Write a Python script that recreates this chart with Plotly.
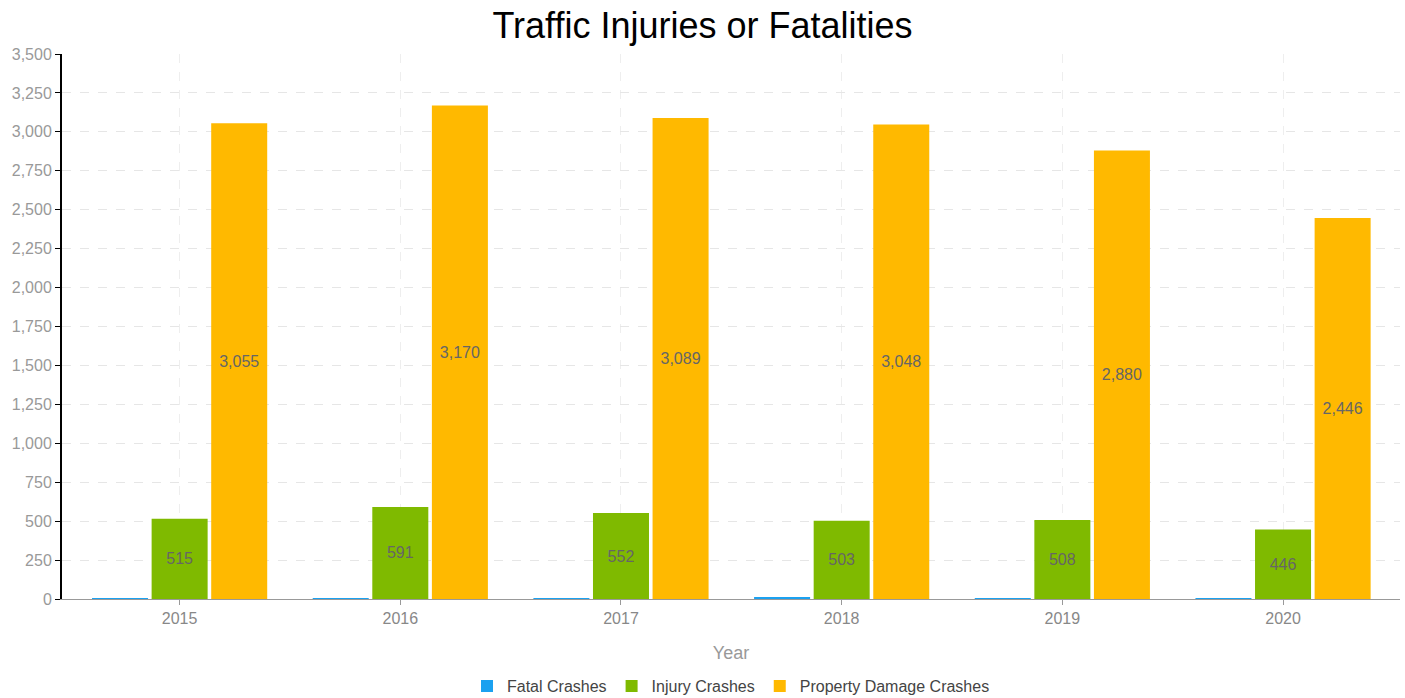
import plotly.graph_objects as go

years = ["2015", "2016", "2017", "2018", "2019", "2020"]
fatal = [4, 3, 3, 9, 2, 3]
injury = [515, 591, 552, 503, 508, 446]
property_damage = [3055, 3170, 3089, 3048, 2880, 2446]

font_family = "Liberation Sans, Arial, sans-serif"

fig = go.Figure()
fig.add_trace(go.Bar(name="Fatal Crashes", x=years, y=fatal, marker_color="#1ba1f0",
                     marker_line_width=0, hoverinfo="y"))
fig.add_trace(go.Bar(name="Injury Crashes", x=years, y=injury, marker_color="#7fba00",
                     marker_line_width=0, texttemplate="%{y:,}", textposition="inside",
                     insidetextanchor="middle", textangle=0,
                     textfont=dict(color="#666666", size=16, family=font_family)))
fig.add_trace(go.Bar(name="Property Damage Crashes", x=years, y=property_damage, marker_color="#ffb900",
                     marker_line_width=0, texttemplate="%{y:,}", textposition="inside",
                     insidetextanchor="middle", textangle=0,
                     textfont=dict(color="#666666", size=16, family=font_family)))

fig.update_layout(
    width=1405, height=698,
    barmode="group", bargap=0.19, bargroupgap=0.06,
    paper_bgcolor="white", plot_bgcolor="white",
    margin=dict(l=62, r=5, t=54, b=99, autoexpand=False),
    font=dict(family=font_family, color="#999999", size=14),
    title=dict(text="Traffic Injuries or Fatalities", x=0.5, xanchor="center",
               y=0.964, yanchor="middle",
               font=dict(size=36, color="#000000", family=font_family)),
    showlegend=True,
    legend=dict(orientation="h", x=0.5, xanchor="center", y=-0.16, yanchor="middle",
                font=dict(size=16, color="#444444", family=font_family),
                itemwidth=30, traceorder="normal"),
    xaxis=dict(type="category", range=[-0.533, 5.53],
               showline=True, linecolor="#999999", linewidth=1,
               ticks="outside", tickcolor="#999999", ticklen=5,
               showgrid=True, gridcolor="#eeeeee", griddash="dash",
               tickfont=dict(size=16, color="#888888"),
               title=dict(text="Year", font=dict(size=18, color="#999999"), standoff=20)),
    yaxis=dict(range=[0, 3500], dtick=250, tickformat=",",
               showline=True, linecolor="#000000", linewidth=2,
               ticks="outside", tickcolor="#000000", ticklen=5,
               showgrid=True, gridcolor="#e6e6e6", griddash="dash",
               zeroline=False,
               tickfont=dict(size=16, color="#999999")),
)

fig.write_html("out.html")
